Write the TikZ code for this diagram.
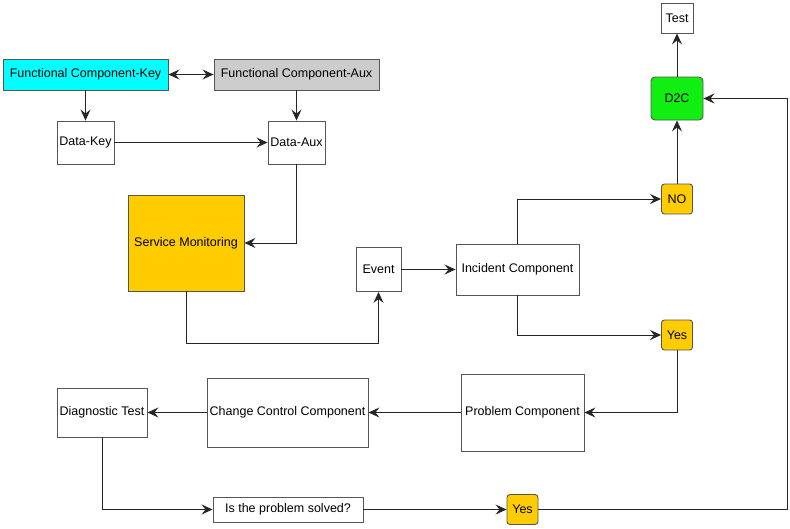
\documentclass[tikz,border=0pt]{standalone}
\usepackage{fontspec}
\setmainfont{Liberation Sans}
\usepackage{tikz}
\usetikzlibrary{arrows, arrows.meta, shapes}

\definecolor{aqua}{HTML}{00FFFF}
\definecolor{gold}{HTML}{FFCC00}
\definecolor{limegreen}{HTML}{11EE11}
\definecolor{lightgrey}{HTML}{CCCCCC}
\definecolor{edge}{HTML}{555555}

\begin{document}
\begin{tikzpicture}[
	x = 1pt, y = -1pt,
	font = \fontsize{12.5}{15}\selectfont,
	block/.style={draw=edge, line width=0.9pt, rectangle, inner sep=0pt, align=center},
	choice/.style={block, fill=gold, rounded corners=3pt, minimum width=31, minimum height=30},
	link/.style={->, >={Stealth[length=11pt, width=10pt, inset=4pt]}, line width=1pt, black!85, line join=miter},
	]
	\useasboundingbox (0,0) rectangle (790,528);

	\node (fck) [block, fill=aqua, minimum width=165, minimum height=31] at (85.5,74.5) {Functional Component-Key};
	\node (fca) [block, fill=lightgrey, minimum width=165, minimum height=31] at (296.5,74.5) {Functional Component-Aux};
	\node (dkey) [block, minimum width=57, minimum height=43] at (85.5,142.5) {Data-Key};
	\node (daux) [block, minimum width=57, minimum height=43] at (296.5,142.5) {Data-Aux};
	\node (serv) [block, fill=gold, minimum width=116, minimum height=96] at (186,243) {Service Monitoring};
	\node (event) [block, minimum width=45, minimum height=44] at (378.5,269.5) {Event};
	\node (inc) [block, minimum width=123, minimum height=51] at (517.5,269.5) {Incident Component};
	\node (no) [choice] at (677,199) {NO};
	\node (yes1) [choice] at (677,335) {Yes};
	\node (d2c) [block, fill=limegreen, rounded corners=4pt, minimum width=52, minimum height=43] at (677,98.5) {D2C};
	\node (test) [block, minimum width=32, minimum height=30] at (677,18) {Test};
	\node (prob) [block, minimum width=123, minimum height=77] at (522.5,412.5) {Problem Component};
	\node (ccc) [block, minimum width=161, minimum height=69] at (287.5,412.5) {Change Control Component};
	\node (diag) [block, minimum width=90, minimum height=49] at (102,412.5) {Diagnostic Test};
	\node (solved) [block, minimum width=150, minimum height=25] at (288,509.5) {Is the problem solved?};
	\node (yes2) [choice] at (522.5,509.5) {Yes};

	\draw[link, <->] (fck) -- (fca);
	\draw[link] (fck) -- (dkey);
	\draw[link] (fca) -- (daux);
	\draw[link] (dkey) -- (daux);
	\draw[link] (daux) |- (serv);
	\draw[link] (serv.south) -- ++(0,52) -| (event.south);
	\draw[link] (event) -- (inc);
	\draw[link] (inc.north) |- (no.west);
	\draw[link] (inc.south) |- (yes1.west);
	\draw[link] (no) -- (d2c);
	\draw[link] (d2c) -- (test);
	\draw[link] (yes1.south) |- (prob.east);
	\draw[link] (prob) -- (ccc);
	\draw[link] (ccc) -- (diag);
	\draw[link] (diag.south) |- (solved.west);
	\draw[link] (solved) -- (yes2);
	\draw[link] (yes2.east) -- ++(249,0) |- (d2c.east);
\end{tikzpicture}
\end{document}
